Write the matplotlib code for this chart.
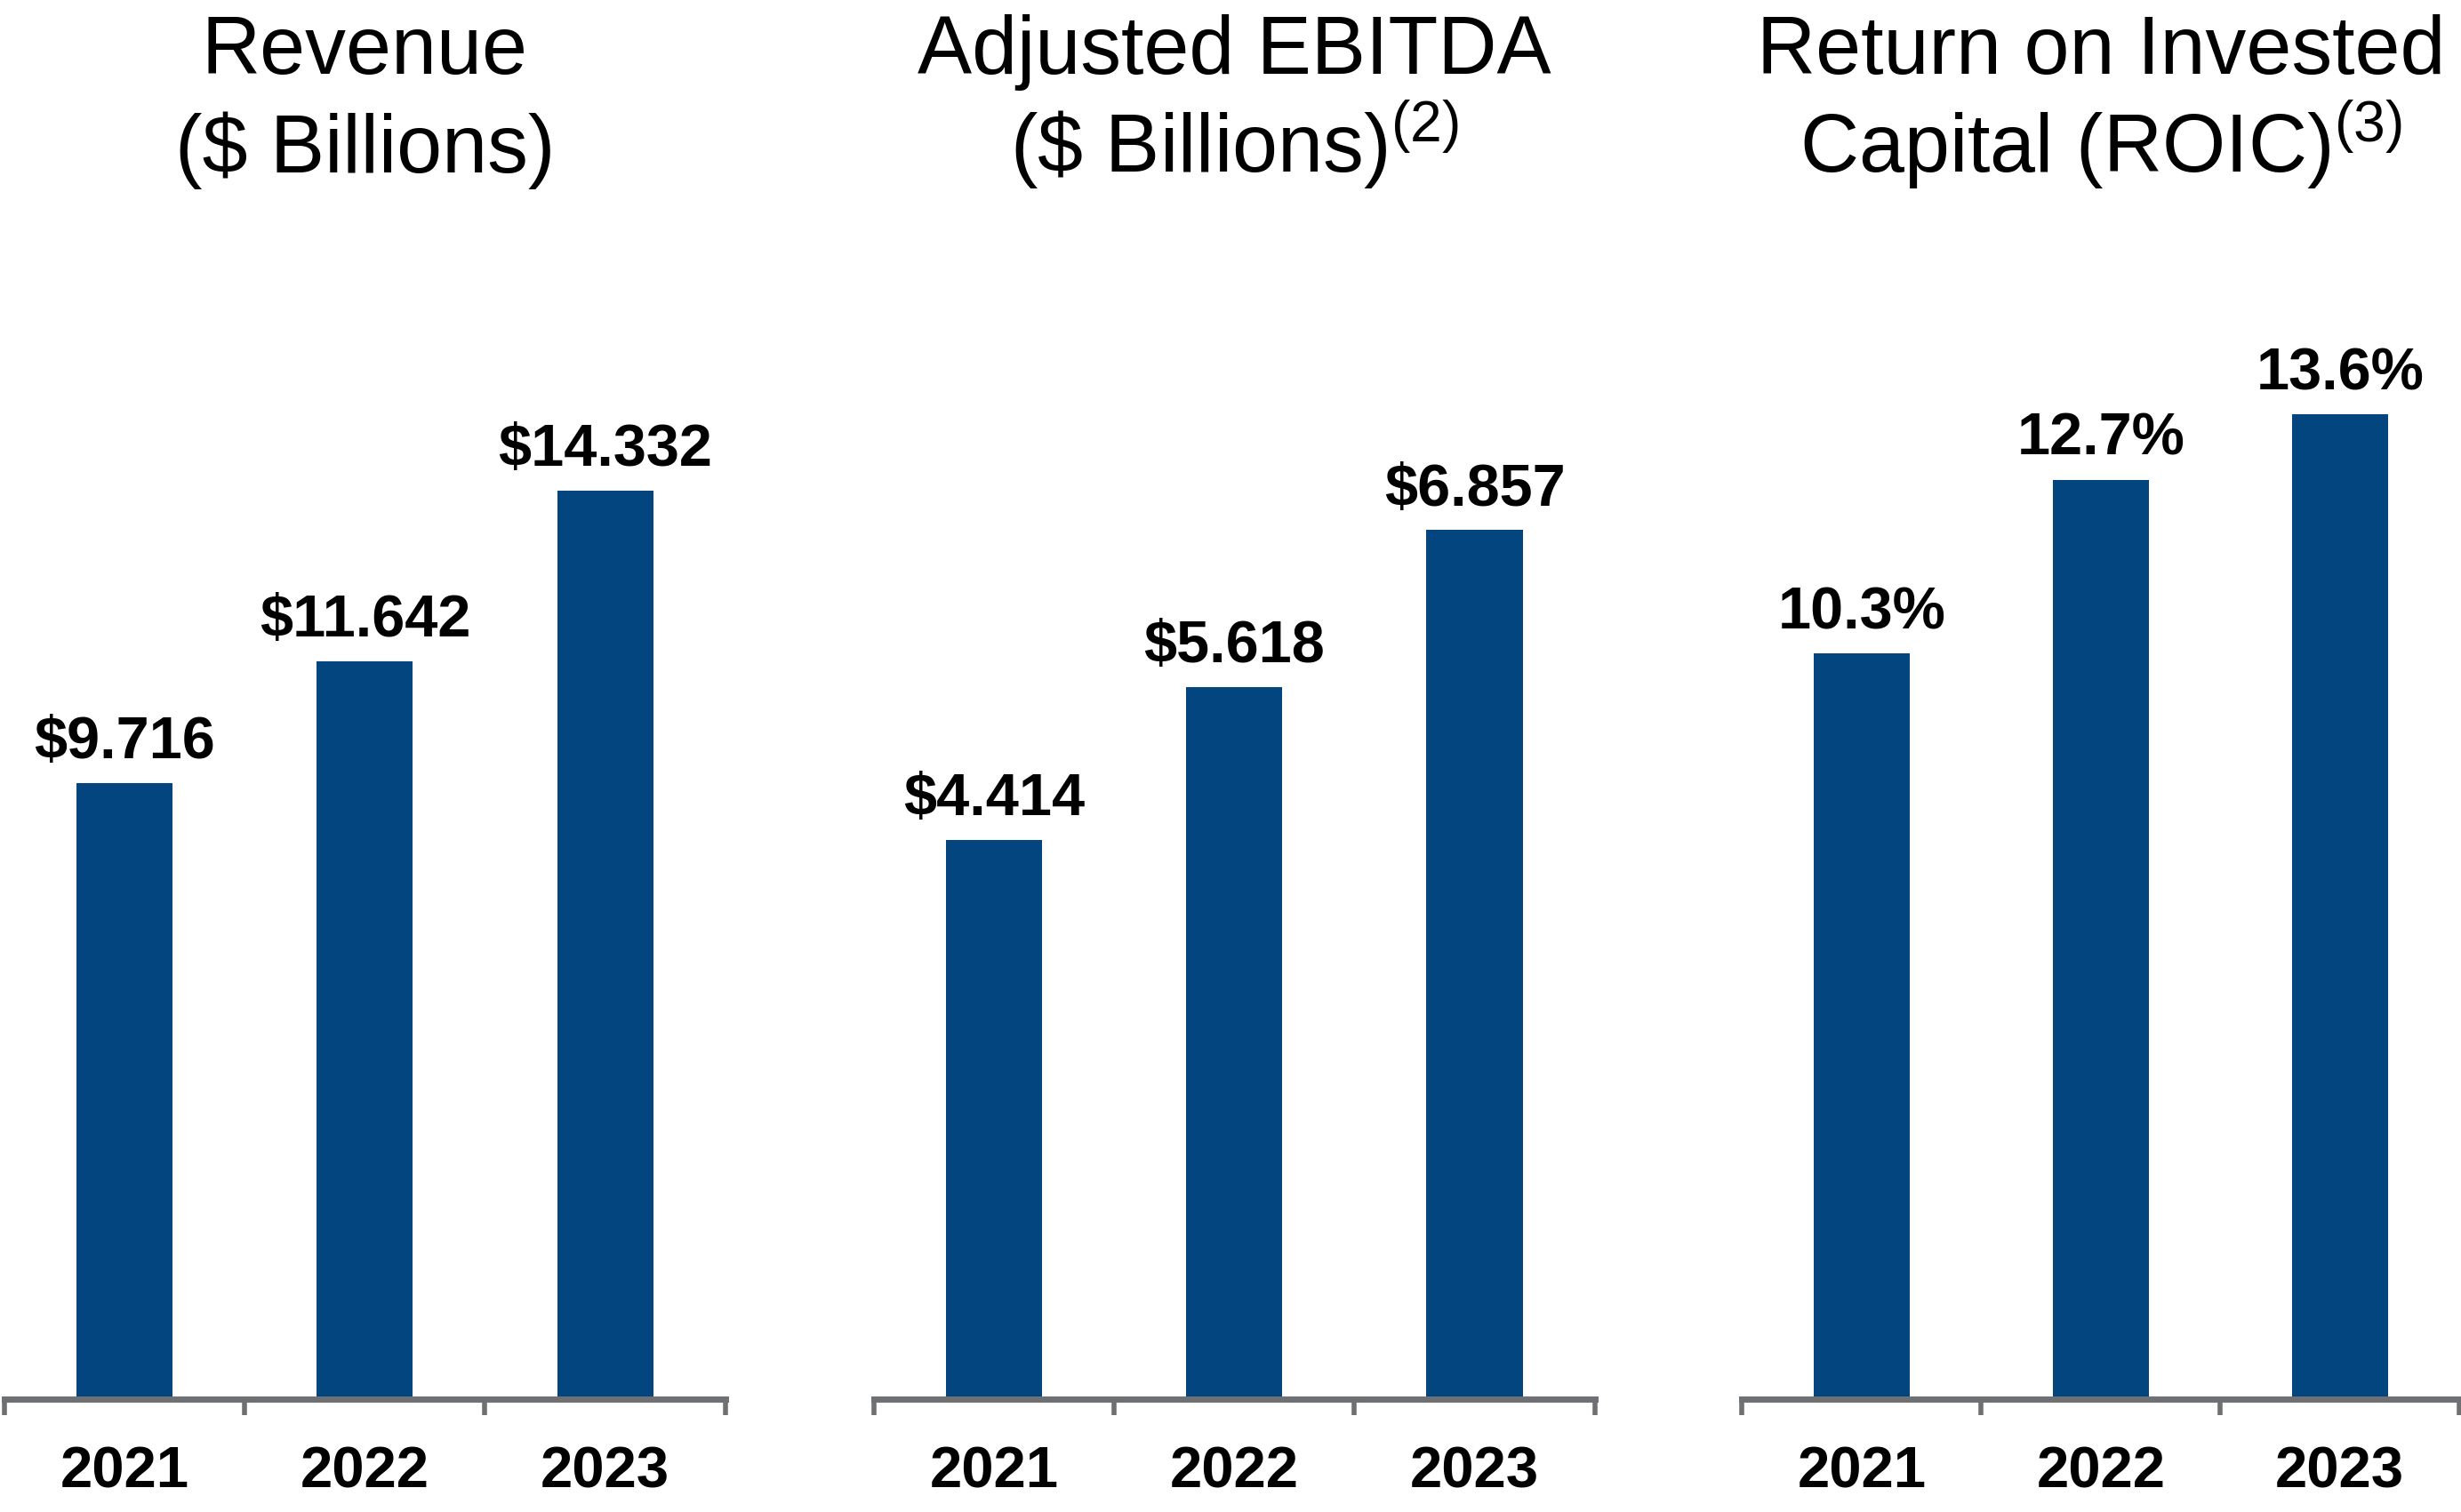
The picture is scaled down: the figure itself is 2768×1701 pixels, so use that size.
import matplotlib
matplotlib.use('Agg')
import matplotlib.pyplot as plt
from matplotlib.ticker import FixedLocator, FixedFormatter, NullFormatter

plt.rcParams['font.family'] = ['Liberation Sans', 'DejaVu Sans']
plt.rcParams['mathtext.fontset'] = 'custom'
plt.rcParams['mathtext.rm'] = 'Liberation Sans'
plt.rcParams['mathtext.default'] = 'regular'

years = ['2021', '2022', '2023']
revenue = [9.716, 11.642, 14.332]
ebitda = [4.414, 5.618, 6.857]
roic = [10.3, 12.7, 13.6]
revenue_labels = ['$9.716', '$11.642', '$14.332']
ebitda_labels = ['$4.414', '$5.618', '$6.857']
roic_labels = ['10.3%', '12.7%', '13.6%']
titles_line1 = ['Revenue', 'Adjusted EBITDA', 'Return on Invested']
titles_line2 = ['($ Billions)', r'(\$ Billions)$^{(2)}$', r'Capital (ROIC)$^{(3)}$']

BAR = '#03457e'
AXC = '#6f7073'
W, H = 1568.0, 963.0

fig = plt.figure(figsize=(13.84, 8.505), dpi=200)

panels = [
    (3, 462, revenue, revenue_labels, 17.12),
    (557, 1016, ebitda, ebitda_labels, 8.563),
    (1110, 1567, roic, roic_labels, 14.99),
]
bottom = 1 - 891 / H
top = 1 - 200 / H

for i, (x0, x1, vals, labs, ytop) in enumerate(panels):
    ax = fig.add_axes([x0 / W, bottom, (x1 - x0) / W, top - bottom])
    xs = list(range(len(years)))
    ax.bar(xs, vals, width=0.4, color=BAR, zorder=2)
    ax.set_xlim(-0.5, 2.5)
    ax.set_ylim(0, ytop)
    for s in ['top', 'left', 'right']:
        ax.spines[s].set_visible(False)
    ax.spines['bottom'].set_color(AXC)
    ax.spines['bottom'].set_linewidth(2.5)
    ax.spines['bottom'].set_zorder(3)
    ax.set_yticks([])
    ax.xaxis.set_major_locator(FixedLocator([-0.5, 0.5, 1.5, 2.5]))
    ax.xaxis.set_major_formatter(NullFormatter())
    ax.xaxis.set_minor_locator(FixedLocator(xs))
    ax.xaxis.set_minor_formatter(FixedFormatter(years))
    ax.tick_params(axis='x', which='major', direction='out', length=6.5,
                   width=2.0, color=AXC)
    ax.tick_params(axis='x', which='minor', length=0, pad=19, labelsize=23.5)
    for lbl in ax.xaxis.get_minorticklabels():
        lbl.set_fontweight('bold')
    for xv, v, t in zip(xs, vals, labs):
        ax.annotate(t, (xv, v), xytext=(0, 5), textcoords='offset points',
                    ha='center', va='bottom', fontsize=24, fontweight='bold',
                    parse_math=False)
    cx = (x0 + x1) / 2 / W
    fig.text(cx, 1 - 47 / H, titles_line1[i], ha='center', va='baseline', fontsize=33)
    fig.text(cx, 1 - 110 / H, titles_line2[i], ha='center', va='baseline', fontsize=33)

fig.savefig('out.png', dpi=200)
